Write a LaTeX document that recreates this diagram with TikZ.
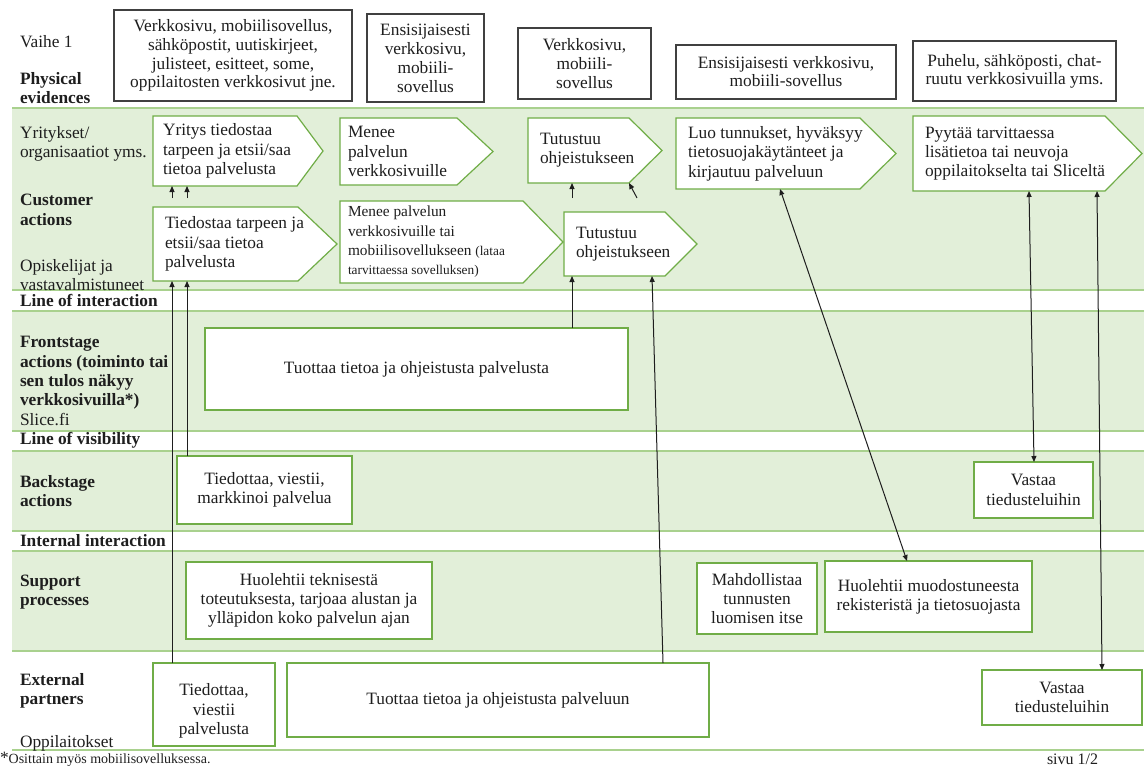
\documentclass[tikz,border=0pt]{standalone}
\usepackage{fontspec}
\setmainfont{Liberation Serif}
\usetikzlibrary{arrows.meta}

\definecolor{bandfill}{HTML}{E2EFD9}
\definecolor{bandline}{HTML}{A9D18E}
\definecolor{boxline}{HTML}{70AD47}
\definecolor{ink}{HTML}{1E1E1E}

% one drawing unit = one pixel of the 1144 x 767 page
\newdimen\px \px=0.75pt

\tikzset{
  txtbase/.style={inner sep=0pt, outer sep=0pt, text=ink, font=\fontsize{13}{14.5}\selectfont},
  pbox/.style={txtbase, draw=ink!85, line width=1.3\px, fill=white, align=center},
  gbox/.style={txtbase, draw=boxline, line width=1.2\px, fill=white, align=center},
  cover/.style={inner sep=0pt, outer sep=0pt},
  chevline/.style={draw=boxline, line width=1.2\px, fill=white, line join=miter},
  chevtxt/.style={txtbase, align=left, anchor=west},
  lane/.style={txtbase, align=left, anchor=west},
  lanebf/.style={lane, font=\fontsize{13}{14.5}\selectfont\bfseries},
  band/.style={fill=bandfill},
  bandedge/.style={draw=bandline, line width=1.3\px},
  arr/.style={draw=ink, line width=1\px, -{Triangle[length=4.5pt,width=3.75pt]}},
  darr/.style={draw=ink, line width=1\px, {Triangle[length=4.5pt,width=3.75pt]}-{Triangle[length=4.5pt,width=3.75pt]}},
}

% rectangular box: style, name, x1, y1, x2, y2, text
\newcommand\boxat[7]{%
  \node[#1, minimum width={(#5-#3)*\px}, minimum height={(#6-#4)*\px}]
    (#2) at ({(#3+#5)/2},{(#4+#6)/2}) {#7};}

% arrow-shaped step: name, x1, y1, x of tip start, x of tip, y2, text padding, text
\newcommand\chev[8]{%
  \node[cover, minimum width={(#4-#2)*\px}, minimum height={(#6-#3)*\px}]
    (#1) at ({(#2+#4)/2},{(#3+#6)/2}) {};
  \draw[chevline] (#1.north west) -- (#1.north east)
    -- ([xshift={(#5-#4)*\px}]#1.east) -- (#1.south east) -- (#1.south west) -- cycle;
  \node[chevtxt] (#1-t) at ([xshift={#7*\px}]#1.west) {#8};}

\begin{document}
\begin{tikzpicture}[x=0.75pt, y=-0.75pt]
\useasboundingbox (0,0) rectangle (1144,767);

% swim-lane bands
\fill[band] (12,108) rectangle (1144,290);
\fill[band] (12,311) rectangle (1144,431);
\fill[band] (12,451) rectangle (1144,531);
\fill[band] (12,551) rectangle (1144,651);
\foreach \yy in {108,290,311,431,451,531,551,651,750}
  \draw[bandedge] (12,\yy) -- (1144,\yy);

% lane titles
\node[lane] (vaihe) at (20,42) {Vaihe 1};
\node[lanebf] (phys) at (20,88) {Physical\\evidences};
\node[lane] (yrit) at (20,144) {Yritykset/\\organisaatiot yms.};
\node[lanebf] (cust) at (20,210) {Customer\\actions};
\node[lane] (opisk) at (20,275) {Opiskelijat ja\\vastavalmistuneet};
\node[lanebf] (loi) at (20,300) {Line of interaction};
\node[lanebf] (front) at (20,381) {Frontstage\\actions (toiminto tai\\sen tulos näkyy\\verkkosivuilla*)\\{\mdseries Slice.fi}};
\node[lanebf] (lov) at (20,440) {Line of visibility};
\node[lanebf] (back) at (20,491) {Backstage\\actions};
\node[lanebf] (intl) at (20,541) {Internal interaction};
\node[lanebf] (supp) at (20,592) {Support\\processes};
\node[lanebf] (extp) at (20,691) {External\\partners};
\node[lane] (oppi) at (20,743) {Oppilaitokset};
\node[lane] (note) at (0,759) {*{\fontsize{10.5}{12}\selectfont Osittain myös mobiilisovelluksessa.}};
\node[lane, font=\fontsize{12}{14}\selectfont] (page) at (1047,759) {sivu 1/2};

% physical evidences
\boxat{pbox, font=\fontsize{13}{14}\selectfont}{P1}{114}{10}{352}{101}{Verkkosivu, mobiilisovellus,\\sähköpostit, uutiskirjeet,\\julisteet, esitteet, some,\\oppilaitosten verkkosivut jne.}
\boxat{pbox, font=\fontsize{13}{14.25}\selectfont}{P2}{367}{14}{484}{102}{Ensisijaisesti\\verkkosivu,\\mobiili-\\sovellus}
\boxat{pbox, font=\fontsize{13}{14.25}\selectfont}{P3}{518}{28}{651}{99}{Verkkosivu,\\mobiili-\\sovellus}
\boxat{pbox, font=\fontsize{13}{13.5}\selectfont}{P4}{676}{45}{896}{99}{Ensisijaisesti verkkosivu,\\mobiili-sovellus}
\boxat{pbox, font=\fontsize{13}{13.5}\selectfont}{P5}{913}{41}{1116}{101}{Puhelu, sähköposti, chat-\\ruutu verkkosivuilla yms.}

% customer actions: companies
\chev{C1}{153}{116}{297}{323}{186}{10}{Yritys tiedostaa\\tarpeen ja etsii/saa\\tietoa palvelusta}
\chev{C2}{340}{118}{457}{493}{185}{8}{Menee\\palvelun\\verkkosivuille}
\chev{C3}{528}{118}{629}{662}{183}{12}{Tutustuu\\ohjeistukseen}
\chev{C4}{676}{118}{860}{896}{189}{12}{Luo tunnukset, hyväksyy\\tietosuojakäytänteet ja\\kirjautuu palveluun}
\chev{C5}{913}{116}{1105}{1142}{191}{12}{Pyytää tarvittaessa\\lisätietoa tai neuvoja\\oppilaitokselta tai Sliceltä}

% customer actions: students and graduates
\chev{D1}{153}{207}{298}{337}{281}{12}{Tiedostaa tarpeen ja\\etsii/saa tietoa\\palvelusta}
\chev{D2}{340}{201}{523}{563}{283}{8}{\fontsize{11.5}{13.5}\selectfont Menee palvelun\\\fontsize{11.5}{13.5}\selectfont verkkosivuille tai\\\fontsize{11.5}{13.5}\selectfont mobiilisovellukseen {\fontsize{10}{13.5}\selectfont (lataa}\\\fontsize{10}{13.5}\selectfont tarvittaessa sovelluksen)}
\chev{D3}{564}{212}{665}{697}{276}{12}{Tutustuu\\ohjeistukseen}

% frontstage
\boxat{gbox}{F1}{205}{328}{628}{410}{Tuottaa tietoa ja ohjeistusta palvelusta}

% backstage
\boxat{gbox}{B1}{177}{456}{352}{524}{Tiedottaa, viestii,\\markkinoi palvelua}
\boxat{gbox}{B2}{974}{462}{1093}{518}{Vastaa\\tiedusteluihin}

% support processes
\boxat{gbox}{S1}{186}{562}{432}{639}{Huolehtii teknisestä\\toteutuksesta, tarjoaa alustan ja\\ylläpidon koko palvelun ajan}
\boxat{gbox}{S2}{697}{563}{817}{634}{Mahdollistaa\\tunnusten\\luomisen itse}
\boxat{gbox}{S3}{825}{561}{1032}{632}{Huolehtii muodostuneesta\\rekisteristä ja tietosuojasta}

% external partners
\boxat{gbox}{E1}{153}{663}{275}{746}{\rule{0pt}{19pt}Tiedottaa,\\viestii\\palvelusta}
\boxat{gbox}{E2}{287}{663}{709}{737}{Tuottaa tietoa ja ohjeistusta palveluun}
\boxat{gbox}{E3}{982}{670}{1142}{725}{Vastaa\\tiedusteluihin}

% connectors
\draw[arr] ([xshift=14.25pt]E1.north west) -- ([xshift=14.25pt]D1.south west);
\draw[arr] ([xshift=7.5pt]B1.north west) -- ([xshift=25.5pt]D1.south west);
\draw[arr, shorten <=6.75pt] ([xshift=14.25pt]D1.north west) -- ([xshift=14.25pt]C1.south west);
\draw[arr, shorten <=6.75pt] ([xshift=25.5pt]D1.north west) -- ([xshift=25.5pt]C1.south west);
\draw[arr] ([xshift=275.25pt]F1.north west) -- ([xshift=6pt]D3.south west);
\draw[arr] ([xshift=282pt]E2.north west) -- ([xshift=66pt]D3.south west);
\draw[arr, shorten <=10.5pt] ([xshift=6pt]D3.north west) -- ([xshift=33pt]C3.south west);
\draw[arr, shorten <=12pt] ([xshift=60.4pt]D3.north west) -- ([xshift=75.75pt]C3.south west);
\draw[darr] ([xshift=78pt]C4.south west) -- ([xshift=61.5pt]S3.north west);
\draw[darr] ([xshift=87pt]C5.south west) -- ([xshift=45pt]B2.north west);
\draw[darr] ([xshift=138pt]C5.south west) -- ([xshift=90pt]E3.north west);
\end{tikzpicture}
\end{document}
